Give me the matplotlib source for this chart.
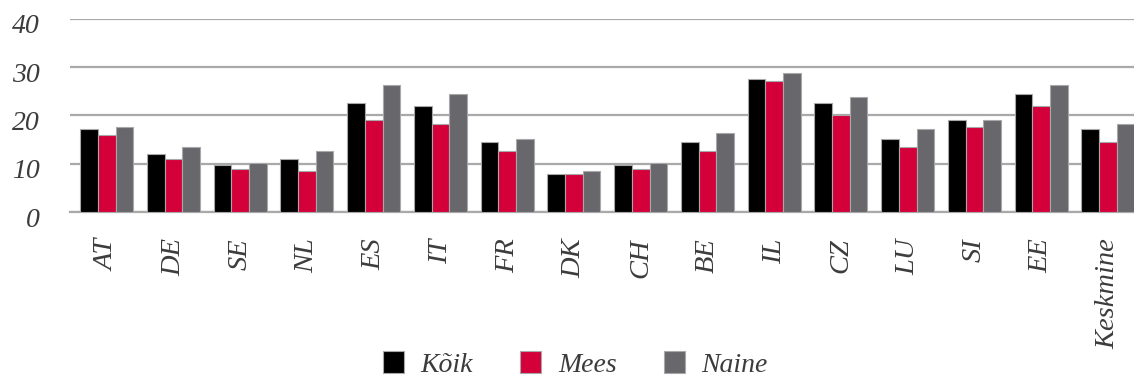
import matplotlib.pyplot as plt
import matplotlib.transforms as mtransforms
import numpy as np

plt.rcParams['font.family'] = ['Liberation Serif', 'DejaVu Serif']

categories = ["AT", "DE", "SE", "NL", "ES", "IT", "FR", "DK", "CH", "BE",
              "IL", "CZ", "LU", "SI", "EE", "Keskmine"]
koik = [17.1, 12.1, 9.7, 10.9, 22.6, 22.0, 14.5, 7.8, 9.7, 14.5,
        27.6, 22.6, 15.2, 19.0, 24.5, 17.1]
mees = [15.9, 10.9, 9.0, 8.4, 19.0, 18.3, 12.7, 7.8, 9.0, 12.7,
        27.1, 20.2, 13.4, 17.7, 22.0, 14.6]
naine = [17.6, 13.4, 10.2, 12.7, 26.3, 24.5, 15.2, 8.4, 10.2, 16.4,
         28.9, 23.9, 17.1, 19.0, 26.4, 18.3]

fig = plt.figure(figsize=(11.34, 3.78), dpi=100)
ax = fig.add_axes([0.0617, 0.439, 0.9383, 0.511])

x = np.arange(len(categories))
w = 0.265
edge = "#a8a8a8"
ax.bar(x - w, koik, w, color="#000000", edgecolor=edge, linewidth=0.8, label="Kõik", zorder=3)
ax.bar(x, mees, w, color="#d4003a", edgecolor=edge, linewidth=0.8, label="Mees", zorder=3)
ax.bar(x + w, naine, w, color="#68676c", edgecolor=edge, linewidth=0.8, label="Naine", zorder=3)

ax.set_ylim(0, 40)
ax.set_xlim(-0.55, len(categories) - 0.61)
ax.grid(axis="y", color="#a9a9a9", linewidth=1.6, zorder=0)
for s in ["top", "right", "left"]:
    ax.spines[s].set_visible(False)
ax.spines["bottom"].set_color("#a9a9a9")
ax.spines["bottom"].set_linewidth(1.6)
ax.tick_params(axis="both", length=0)
ax.tick_params(axis="y", pad=22)
ax.set_yticks([0, 10, 20, 30, 40])
ax.set_yticklabels(["0", "10", "20", "30", "40"], fontsize=20, style="italic", color="#3c3c3c")
# labels sit a little below their gridlines
shift = mtransforms.ScaledTranslation(0, -5 / 100, fig.dpi_scale_trans)
for lab in ax.get_yticklabels():
    lab.set_transform(lab.get_transform() + shift)

ax.set_xticks(x)
ax.set_xticklabels(categories, rotation=90, fontsize=20.5, style="italic", color="#3c3c3c")
ax.tick_params(axis="x", pad=19)

ax.legend(loc="center", bbox_to_anchor=(0.475, -0.79), ncol=3, frameon=False,
          prop={"style": "italic", "size": 20}, handlelength=0.75, handleheight=0.85,
          handletextpad=0.6, columnspacing=1.7, labelcolor="#3c3c3c")

fig.savefig("out.png", dpi=100)
